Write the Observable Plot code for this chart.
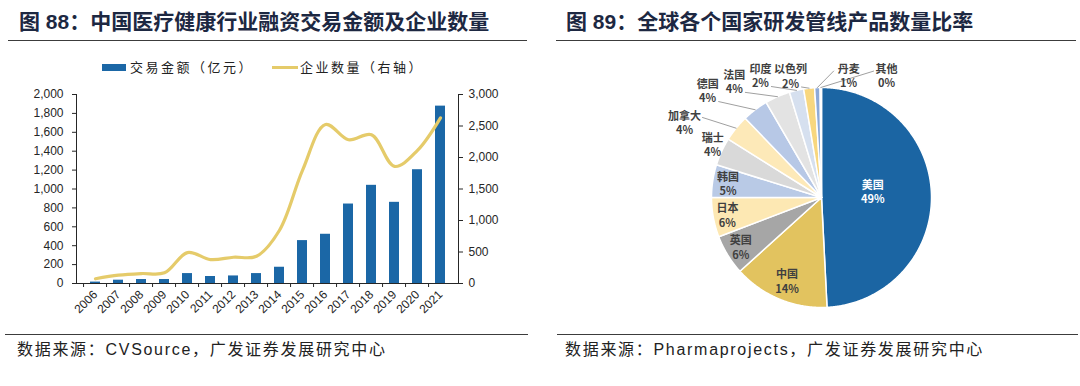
<!DOCTYPE html>
<html>
<head>
<meta charset="utf-8">
<script src="https://cdn.jsdelivr.net/npm/d3@7"></script>
<script src="https://cdn.jsdelivr.net/npm/@observablehq/plot@0.6"></script>
<style>
  body { margin: 0; background: #fff; }
  #page { position: relative; width: 1080px; height: 386px; overflow: hidden; font-family: "Noto Sans CJK SC", sans-serif; background: #fff; }
  .title { position: absolute; top: 9px; font-size: 21px; line-height: 26px; font-weight: 700; color: #1d2842; white-space: nowrap; font-family: "Liberation Sans", "Noto Sans CJK SC", sans-serif; }
  .rule { position: absolute; height: 0; border-top: 1.5px solid #3c3c3c; }
  .src { position: absolute; top: 340px; font-size: 16px; line-height: 20px; color: #222; letter-spacing: 1.7px; white-space: nowrap; font-family: "Liberation Sans", "Noto Sans CJK SC", sans-serif; }
  .lg { position: absolute; font-size: 13px; line-height: 16px; color: #222; letter-spacing: 2.5px; white-space: nowrap; }
  .abs { position: absolute; }
</style>
</head>
<body>
<div id="page">
  <div class="title" style="left:19px">图 88：中国医疗健康行业融资交易金额及企业数量</div>
  <div class="rule" style="left:8px;width:519px;top:40px"></div>
  <div class="title" style="left:566px">图 89：全球各个国家研发管线产品数量比率</div>
  <div class="rule" style="left:556px;width:520px;top:40px"></div>

  <div class="abs" style="left:102px;top:64px;width:24px;height:7px;background:#1b67a6"></div>
  <div class="lg" style="left:130px;top:59px">交易金额（亿元）</div>
  <div class="abs" style="left:272px;top:66px;width:26px;height:3px;background:#e5cb6a"></div>
  <div class="lg" style="left:300px;top:59px">企业数量（右轴）</div>

  <div id="bar" class="abs" style="left:0;top:80px"></div>
  <div id="pie" class="abs" style="left:540px;top:50px"></div>

  <div class="rule" style="left:5px;width:523px;top:334px"></div>
  <div class="rule" style="left:557px;width:521px;top:334px"></div>
  <div class="src" style="left:17px">数据来源：CVSource，广发证券发展研究中心</div>
  <div class="src" style="left:565px">数据来源：Pharmaprojects，广发证券发展研究中心</div>
</div>
<script>
// ---- Left chart data ----
const years = ["2006","2007","2008","2009","2010","2011","2012","2013","2014","2015","2016","2017","2018","2019","2020","2021"];
const dealAmount = [15, 35, 42, 42, 105, 74, 80, 105, 172, 454, 521, 841, 1039, 859, 1204, 1877];   // 亿元, left axis
const companyCount = [75, 132, 158, 169, 491, 380, 417, 433, 845, 1796, 2525, 2282, 2361, 1859, 2113, 2630]; // right axis
const leftTicks = [0, 200, 400, 600, 800, 1000, 1200, 1400, 1600, 1800, 2000];
const rightTicks = [0, 500, 1000, 1500, 2000, 2500, 3000];

// ---- Right chart data ----
const countries = ["美国","中国","英国","日本","韩国","瑞士","加拿大","德国","法国","印度","以色列","丹麦","其他"];
const shares = [49.2, 14.1, 5.9, 5.8, 4.8, 4.1, 3.9, 3.8, 3.7, 2.1, 1.6, 0.8, 0.2];

// ---- Styles ----
const barColor = "#1b67a6";
const lineColor = "#e5cb6a";
const sliceColors = ["#1b65a3","#e2c35f","#a6a6a6","#fde8b3","#b9cae6","#d9d9d9","#fde9b8","#b7c8e6","#e3e3e3","#d6e0ef","#f8d77f","#8eaad8","#c9d6ec"];
const labelLayout = {
  "美国": {r: 0.47, a: 83, color: "#fff"},
  "中国": {r: 0.82}, "英国": {r: 0.86}, "日本": {r: 0.87}, "韩国": {r: 0.86},
  "瑞士": {r: 1.10, a: 295.9},
  "加拿大": {r: 1.42, a: 298.7, lead: [18, -5]},
  "德国": {r: 1.42, a: 313.2, lead: [11, 11]},
  "法国": {r: 1.32, a: 323.1, lead: [11, 11]},
  "印度": {r: 1.24, a: 333.4, lead: [11, 11]},
  "以色列": {r: 1.14, a: 345.7, lead: [11, 11]},
  "丹麦": {r: 1.14, a: 12.5, lead: [-15, -4]},
  "其他": {r: 1.26, a: 28.0, lead: [-13, -4]}
};

// ---- Left chart ----
const rows = years.map((year, i) => ({year, amount: dealAmount[i], count: companyCount[i]}));
const ratio = 2000 / 3000;
const fmt = d3.format(",");
const barPlot = Plot.plot({
  width: 540, height: 240,
  marginLeft: 76, marginRight: 82, marginTop: 14, marginBottom: 37,
  style: {fontFamily: "'Liberation Sans', Arial, sans-serif", fontSize: "12px", color: "#262626", background: "transparent", overflow: "visible"},
  x: {type: "band", domain: years, paddingInner: 0.57, paddingOuter: 0.285, label: null},
  y: {domain: [0, 2000], label: null},
  marks: [
    Plot.barY(rows, {x: "year", y: "amount", fill: barColor}),
    Plot.line(rows, {x: "year", y: d => d.count * ratio, stroke: lineColor, strokeWidth: 3.2, curve: "catmull-rom"}),
    Plot.axisY(leftTicks, {anchor: "left", tickFormat: fmt, tickSize: 4, tickPadding: 9, label: null}),
    Plot.axisY(rightTicks.map(v => v * ratio), {anchor: "right", tickFormat: v => fmt(Math.round(v / ratio)), tickSize: 4, tickPadding: 6, label: null}),
    Plot.axisX({tickRotate: -45, tickSize: 0, tickPadding: 9, label: null}),
    Plot.axisX({tickSize: 4, tickFormat: () => "", dx: -11.94, label: null}),
    Plot.frame({anchor: "left", stroke: "#262626"}),
    Plot.frame({anchor: "right", stroke: "#262626"}),
    Plot.frame({anchor: "bottom", stroke: "#262626"})
  ]
});
document.getElementById("bar").append(barPlot);

// ---- Right chart (pie via identity projection) ----
const arcs = d3.pie().sort(null).value(d => d)(shares);
const pt = (a, r) => [r * Math.sin(a), r * Math.cos(a)];
const slices = arcs.map((arc, i) => {
  const n = Math.max(2, Math.ceil((arc.endAngle - arc.startAngle) / (Math.PI / 360)));
  const ring = [[0, 0]];
  for (let k = 0; k <= n; k++) ring.push(pt(arc.startAngle + (arc.endAngle - arc.startAngle) * k / n, 1));
  ring.push([0, 0]);
  return {type: "Feature", properties: {name: countries[i], color: sliceColors[i]}, geometry: {type: "Polygon", coordinates: [ring]}};
});
const scalePx = 110;
const labels = arcs.map((arc, i) => {
  const name = countries[i];
  const lay = labelLayout[name];
  const mid = (arc.startAngle + arc.endAngle) / 2;
  const a = lay.a != null ? lay.a * Math.PI / 180 : mid;
  const [x, y] = pt(a, lay.r);
  return {name, x, y, mid, lead: lay.lead, color: lay.color || "#404040", text: name + "\n" + Math.round(shares[i]) + "%"};
});
const leaders = labels.filter(d => d.lead).map(d => ({
  type: "Feature", properties: {},
  geometry: {type: "LineString", coordinates: [pt(d.mid, 1.0), [d.x + d.lead[0] / scalePx, d.y - d.lead[1] / scalePx]]}
}));
const piePlot = Plot.plot({
  width: 540, height: 280,
  margin: 0,
  style: {fontFamily: "'Noto Sans CJK SC', sans-serif", background: "transparent", overflow: "visible"},
  projection: d3.geoIdentity().reflectY(true).scale(scalePx).translate([281, 147]),
  marks: [
    Plot.geo(slices, {fill: d => d.properties.color, stroke: "#fff", strokeWidth: 1.5}),
    Plot.geo(leaders, {stroke: "#a0a0a0", strokeWidth: 1}),
    Plot.text(labels, {x: "x", y: "y", text: "text", fill: "color", fontSize: 11, fontWeight: "bold", lineHeight: 1.3})
  ]
});
document.getElementById("pie").append(piePlot);
</script>
</body>
</html>
